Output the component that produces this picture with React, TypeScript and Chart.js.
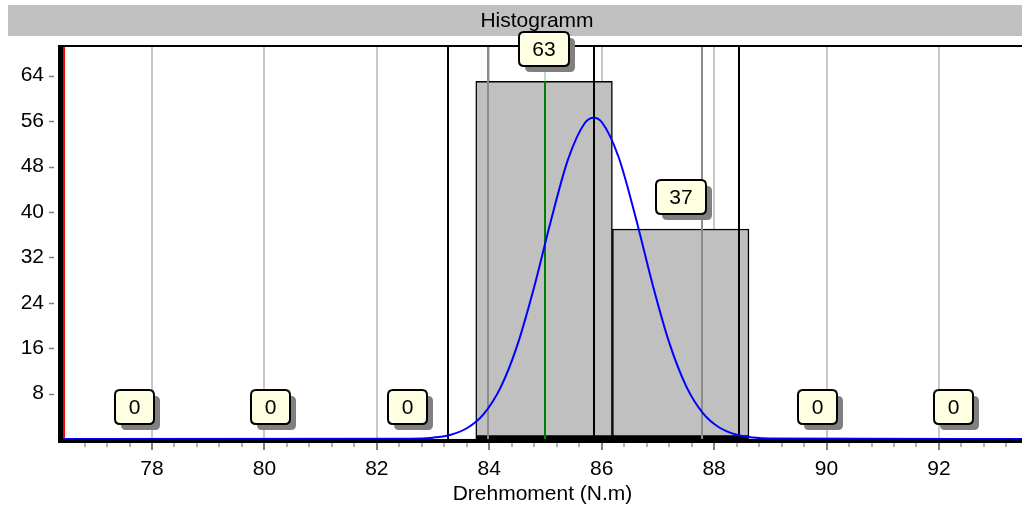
import React, { useEffect, useRef } from 'react';
import { Chart, registerables } from 'chart.js';

Chart.register(...registerables);

// ---- data ----
const titleText = 'Histogramm';
const xAxisTitle = 'Drehmoment (N.m)';
const binCenters = [77.685, 80.115, 82.545, 84.975, 87.405, 89.835, 92.265];
const binCounts = [0, 0, 0, 63, 37, 0, 0];
const curveX = [76.42, 82.6, 83.0, 83.3, 83.6, 83.9, 84.2, 84.5, 84.8, 85.1, 85.4, 85.7, 85.86, 86.0, 86.3, 86.6, 86.9, 87.2, 87.5, 87.8, 88.1, 88.4, 88.7, 89.0, 93.48];
const curveY = [0, 0.05, 0.24, 0.72, 1.89, 4.39, 9.05, 16.54, 26.82, 38.58, 49.21, 55.67, 56.6, 55.84, 49.68, 39.2, 27.43, 17.02, 9.37, 4.57, 1.98, 0.76, 0.26, 0.08, 0];
const xTickValues = [78, 80, 82, 84, 86, 88, 90, 92];
const yTickValues = [8, 16, 24, 32, 40, 48, 56, 64];
const limitLines = [83.27, 85.86, 88.45]; // black
const innerLines = [83.97, 87.78]; // gray
const meanLine = 85.0; // green
const redLine = 76.44; // red
const xMin = 76.417;
const xMax = 93.477;
const yMax = 69.23;
const minorStep = 0.4;

const FONT = "'Liberation Sans', Arial, sans-serif";
const FS = 21;

function roundRect(ctx: CanvasRenderingContext2D, x: number, y: number, w: number, h: number, r: number) {
  ctx.beginPath();
  ctx.moveTo(x + r, y);
  ctx.lineTo(x + w - r, y);
  ctx.quadraticCurveTo(x + w, y, x + w, y + r);
  ctx.lineTo(x + w, y + h - r);
  ctx.quadraticCurveTo(x + w, y + h, x + w - r, y + h);
  ctx.lineTo(x + r, y + h);
  ctx.quadraticCurveTo(x, y + h, x, y + h - r);
  ctx.lineTo(x, y + r);
  ctx.quadraticCurveTo(x, y, x + r, y);
  ctx.closePath();
}

const decorPlugin = {
  id: 'decor',
  beforeDraw(chart: any) {
    const ctx: CanvasRenderingContext2D = chart.ctx;
    ctx.save();
    ctx.fillStyle = '#ffffff';
    ctx.fillRect(0, 0, chart.width, chart.height);
    // title bar
    ctx.fillStyle = '#c0c0c0';
    ctx.fillRect(8, 5, chart.width - 8, 31);
    ctx.fillStyle = '#000';
    ctx.font = `${FS}px ${FONT}`;
    ctx.textAlign = 'center';
    ctx.textBaseline = 'middle';
    ctx.fillText(titleText, 537, 21);
    ctx.restore();
  },
  afterDatasetDraw(chart: any, args: any) {
    if (args.meta.type !== 'bar') return;
    const ctx: CanvasRenderingContext2D = chart.ctx;
    const xs = chart.scales.x;
    const ys = chart.scales.y;
    const { top, bottom, right } = chart.chartArea;
    ctx.save();
    const vline = (v: number, color: string, w: number, y0 = top, y1 = bottom) => {
      const px = Math.round(xs.getPixelForValue(v));
      ctx.strokeStyle = color;
      ctx.lineWidth = w;
      ctx.beginPath();
      ctx.moveTo(px, y0);
      ctx.lineTo(px, y1);
      ctx.stroke();
    };
    innerLines.forEach((v) => vline(v, '#8c8c8c', 2));
    limitLines.forEach((v) => vline(v, '#000000', 2));
    const meanBarTop = ys.getPixelForValue(binCounts[3]);
    vline(meanLine, '#bcdcbc', 2, top, meanBarTop);
    vline(meanLine, '#008000', 2, meanBarTop, bottom);
    vline(redLine, '#ff0000', 2);

    // frame
    ctx.fillStyle = '#000';
    ctx.fillRect(58, top - 1, right - 58, 2); // top border
    ctx.fillRect(58, top - 1, 5, bottom - top + 5); // left axis
    ctx.fillRect(58, bottom, right - 58, 4); // bottom axis

    // x ticks
    ctx.strokeStyle = '#808080';
    ctx.lineWidth = 2;
    xTickValues.forEach((v) => {
      const px = Math.round(xs.getPixelForValue(v));
      ctx.beginPath();
      ctx.moveTo(px, bottom + 4);
      ctx.lineTo(px, bottom + 11);
      ctx.stroke();
    });
    ctx.strokeStyle = '#999999';
    ctx.lineWidth = 1.5;
    for (let k = 1; xMin + k * minorStep < xMax; k++) {
      const v = 76.4 + k * minorStep;
      if (Math.abs(v / 2 - Math.round(v / 2)) < 1e-6) continue;
      const px = Math.round(xs.getPixelForValue(v));
      ctx.beginPath();
      ctx.moveTo(px, bottom + 4);
      ctx.lineTo(px, bottom + 8);
      ctx.stroke();
    }
    // y ticks
    ctx.strokeStyle = '#808080';
    ctx.lineWidth = 1.5;
    yTickValues.forEach((v) => {
      const py = Math.round(ys.getPixelForValue(v)) + 0.5;
      ctx.beginPath();
      ctx.moveTo(49, py);
      ctx.lineTo(54, py);
      ctx.stroke();
    });
    ctx.restore();
  },
  afterDraw(chart: any) {
    const ctx: CanvasRenderingContext2D = chart.ctx;
    const xs = chart.scales.x;
    const ys = chart.scales.y;
    ctx.save();
    ctx.font = `${FS}px ${FONT}`;
    ctx.textAlign = 'center';
    ctx.textBaseline = 'middle';
    binCenters.forEach((c, i) => {
      const txt = String(binCounts[i]);
      const cx = xs.getPixelForValue(c);
      const barTop = ys.getPixelForValue(binCounts[i]);
      const h = 34;
      const w = Math.round(ctx.measureText(txt).width + 27);
      const bx = Math.round(cx - w / 2);
      const by = Math.round(barTop - 15 - h);
      ctx.fillStyle = '#808080';
      roundRect(ctx, bx + 6, by + 6, w, h, 5);
      ctx.fill();
      ctx.fillStyle = '#ffffe1';
      roundRect(ctx, bx, by, w, h, 5);
      ctx.fill();
      ctx.strokeStyle = '#000';
      ctx.lineWidth = 2;
      ctx.stroke();
      ctx.fillStyle = '#000';
      ctx.fillText(txt, bx + w / 2, by + h / 2 + 1);
    });
    ctx.restore();
  },
};

export default function App() {
  const ref = useRef<HTMLCanvasElement>(null);
  useEffect(() => {
    if (!ref.current) return;
    const chart = new Chart(ref.current, {
      type: 'bar',
      data: {
        datasets: [
          {
            type: 'bar',
            data: binCenters.map((x, i) => ({ x, y: binCounts[i] })),
            backgroundColor: '#c0c0c0',
            borderColor: '#000000',
            borderWidth: (c: any) =>
              c.raw && c.raw.y > 0 ? { top: 1.5, left: 1.5, right: 1.5, bottom: 4 } : 0,
            borderSkipped: false,
            barThickness: 'flex',
            barPercentage: 1,
            categoryPercentage: 1,
            order: 2,
          } as any,
          {
            type: 'line',
            data: curveX.map((x, i) => ({ x, y: curveY[i] })),
            borderColor: '#0000ff',
            borderWidth: 2,
            pointRadius: 0,
            cubicInterpolationMode: 'monotone',
            fill: false,
            order: 1,
          } as any,
        ],
      },
      options: {
        animation: false,
        responsive: false,
        devicePixelRatio: 1,
        layout: { padding: { top: 46, left: 0, right: 0, bottom: 0 } },
        plugins: { legend: { display: false }, tooltip: { enabled: false } },
        scales: {
          x: {
            type: 'linear',
            min: xMin,
            max: xMax,
            offset: false,
            afterBuildTicks: (axis: any) => {
              axis.ticks = xTickValues.map((v) => ({ value: v }));
            },
            afterFit: (axis: any) => {
              axis.height = 70;
            },
            grid: { color: '#c8c8c8', lineWidth: 2, offset: false, tickColor: 'rgba(0,0,0,0)', tickLength: 10 },
            border: { display: false },
            ticks: {
              color: '#000',
              font: { size: FS, family: FONT },
              padding: 8,
              maxRotation: 0,
              autoSkip: false,
              callback: (v: any) => String(v),
            },
            title: {
              display: true,
              text: xAxisTitle,
              color: '#000',
              font: { size: FS, family: FONT },
              padding: { top: 0, bottom: 2 },
            },
          },
          y: {
            type: 'linear',
            min: 0,
            max: yMax,
            afterBuildTicks: (axis: any) => {
              axis.ticks = yTickValues.map((v) => ({ value: v }));
            },
            afterFit: (axis: any) => {
              axis.width = 63;
            },
            grid: { drawOnChartArea: false, tickColor: 'rgba(0,0,0,0)', tickLength: 14 },
            border: { display: false },
            ticks: {
              color: '#000',
              font: { size: FS, family: FONT },
              padding: 5,
              autoSkip: false,
              callback: (v: any) => String(v),
            },
          },
        },
      } as any,
      plugins: [decorPlugin],
    });
    return () => chart.destroy();
  }, []);
  return (
    <div style={{ position: 'fixed', left: 0, top: 0, width: 1022, height: 509, background: '#fff' }}>
      <canvas ref={ref} width={1022} height={509} style={{ width: 1022, height: 509, display: 'block' }} />
    </div>
  );
}
